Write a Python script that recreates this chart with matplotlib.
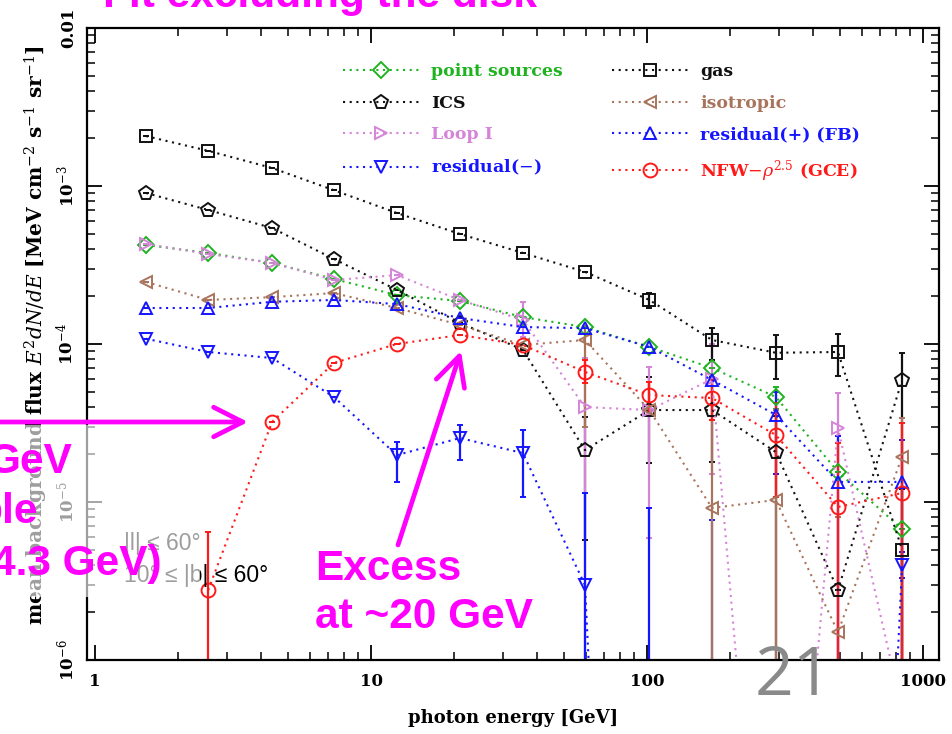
import numpy as np
import matplotlib
matplotlib.use("Agg")
import matplotlib.pyplot as plt
from matplotlib.patches import Rectangle, FancyArrowPatch, ArrowStyle

nan = np.nan

# ---------------- data ----------------
energy = [1.53, 2.57, 4.38, 7.34, 12.4, 21.0, 35.5, 59.6, 102.0, 172.0, 293.0, 492.0, 840.0]

gas = [2.07e-3, 1.67e-3, 1.30e-3, 9.4e-4, 6.75e-4, 4.97e-4, 3.77e-4, 2.86e-4, 1.90e-4, 1.06e-4, 8.8e-5, 8.9e-5, 5.0e-6]
gas_lo = [nan, nan, nan, nan, nan, nan, nan, nan, 1.69e-4, 7.9e-5, 6.0e-5, 6.27e-5, 1e-9]
gas_hi = [nan, nan, nan, nan, nan, nan, nan, nan, 2.10e-4, 1.26e-4, 1.14e-4, 1.15e-4, 1.2e-5]

ics = [9.03e-4, 7.05e-4, 5.42e-4, 3.45e-4, 2.20e-4, 1.36e-4, 9.2e-5, 2.13e-5, 3.82e-5, 3.82e-5, 2.07e-5, 2.77e-6, 5.92e-5]
ics_lo = [nan, nan, nan, nan, nan, nan, nan, 5.74e-6, 1.77e-5, 1.79e-5, 1e-9, nan, 1e-9]
ics_hi = [nan, nan, nan, nan, nan, nan, nan, 3.45e-5, 6.18e-5, 6.2e-5, 3.5e-5, nan, 8.8e-5]

point_src = [4.23e-4, 3.77e-4, 3.26e-4, 2.58e-4, 2.04e-4, 1.87e-4, 1.48e-4, 1.28e-4, 9.58e-5, 7.05e-5, 4.62e-5, 1.55e-5, 6.75e-6]
point_src_lo = [nan, nan, nan, nan, nan, nan, nan, nan, nan, nan, 3.9e-5, nan, nan]
point_src_hi = [nan, nan, nan, nan, nan, nan, nan, nan, nan, nan, 5.34e-5, nan, nan]

loop1 = [4.30e-4, 3.71e-4, 3.26e-4, 2.54e-4, 2.73e-4, 1.90e-4, 1.42e-4, 3.99e-5, 3.82e-5, 6.0e-5, 1.3e-9, 2.94e-5, 4.8e-7]
loop1_lo = [nan, nan, nan, nan, nan, nan, 1.1e-4, 1e-9, 5.9e-6, 1.5e-5, nan, 1e-9, nan]
loop1_hi = [nan, nan, nan, nan, nan, nan, 1.85e-4, 8.15e-5, 7.15e-5, 1.0e-4, nan, 4.9e-5, nan]

isotropic = [2.47e-4, 1.90e-4, 1.98e-4, 2.10e-4, 1.69e-4, 1.32e-4, 9.86e-5, 1.06e-4, 3.82e-5, 9.17e-6, 1.03e-5, 1.50e-6, 1.93e-5]
isotropic_lo = [nan, nan, nan, nan, nan, nan, nan, 3.0e-5, nan, 1e-9, 1e-9, 1e-9, 1e-9]
isotropic_hi = [nan, nan, nan, nan, nan, nan, nan, 1.3e-4, nan, 3.3e-5, 3.8e-5, 8.0e-6, 3.4e-5]

res_plus = [1.69e-4, 1.69e-4, 1.85e-4, 1.90e-4, 1.79e-4, 1.46e-4, 1.28e-4, 1.26e-4, 9.58e-5, 5.92e-5, 3.56e-5, 1.34e-5, 1.34e-5]
res_plus_lo = [nan, nan, nan, nan, nan, nan, nan, nan, nan, nan, 1.5e-5, 1e-9, 1e-9]
res_plus_hi = [nan, nan, nan, nan, nan, nan, nan, nan, nan, nan, 5.0e-5, 2.6e-5, 2.47e-5]

res_minus = [1.08e-4, 8.9e-5, 8.15e-5, 4.62e-5, 1.98e-5, 2.54e-5, 2.04e-5, 2.98e-6, 1e-14, 1e-14, 1e-14, 1e-14, 3.99e-6]
res_minus_lo = [nan, nan, nan, nan, 1.34e-5, 1.84e-5, 1.08e-5, 1e-9, nan, nan, nan, nan, 3.3e-6]
res_minus_hi = [nan, nan, nan, nan, 2.40e-5, 3.07e-5, 2.86e-5, 1.14e-5, 9.2e-6, 7.7e-6, nan, nan, 4.8e-6]

nfw = [nan, 2.77e-6, 3.21e-5, 7.59e-5, 1.0e-4, 1.14e-4, 9.86e-5, 6.65e-5, 4.75e-5, 4.55e-5, 2.65e-5, 9.3e-6, 1.14e-5]
nfw_lo = [nan, 1e-9, nan, nan, nan, nan, nan, 5.66e-5, 3.71e-5, 3.30e-5, 1.08e-5, 1e-9, 1e-9]
nfw_hi = [nan, 6.46e-6, nan, nan, nan, nan, nan, 7.9e-5, 5.74e-5, 5.92e-5, 4.23e-5, 2.36e-5, 3.16e-5]

x_ticks = [1, 10, 100, 1000]
x_ticklabels = ["1", "10", "100", "1000"]
y_ticks = [1e-6, 1e-5, 1e-4, 1e-3, 1e-2]
y_ticklabels = [r"10$^{-6}$", r"10$^{-5}$", r"10$^{-4}$", r"10$^{-3}$", "0.01"]

GREEN = "#1fb31f"
BLACK = "#111111"
VIOLET = "#d584d8"
BLUE = "#1515ff"
BROWN = "#a8745c"
RED = "#ff1a1a"
MAGENTA = "#ff00ff"

series = [
    ("point sources", point_src, point_src_lo, point_src_hi, GREEN, "D", 8),
    ("ICS", ics, ics_lo, ics_hi, BLACK, "p", 10),
    ("Loop I", loop1, loop1_lo, loop1_hi, VIOLET, ">", 9),
    ("residual($-$)", res_minus, res_minus_lo, res_minus_hi, BLUE, "v", 9),
    ("gas", gas, gas_lo, gas_hi, BLACK, "s", 9),
    ("isotropic", isotropic, isotropic_lo, isotropic_hi, BROWN, "<", 9),
    ("residual(+) (FB)", res_plus, res_plus_lo, res_plus_hi, BLUE, "^", 9),
    (r"NFW$-\rho^{2.5}$ (GCE)", nfw, nfw_lo, nfw_hi, RED, "o", 10),
]

# ---------------- figure ----------------
plt.rcParams["font.family"] = ["DejaVu Serif"]
plt.rcParams["mathtext.fontset"] = "dejavuserif"

W, H = 952, 734
fig = plt.figure(figsize=(W / 100, H / 100), dpi=100)
ax = fig.add_axes([87 / W, 1 - 660 / H, (939 - 87) / W, (660 - 28) / H])
ax.set_xscale("log")
ax.set_yscale("log")
ax.set_xlim(0.935, 1143)
ax.set_ylim(1e-6, 1e-2)

x = np.array(energy)
handles = []
for label, vals, lo, hi, color, marker, ms in series:
    y = np.array(vals, dtype=float)
    lo = np.array(lo, dtype=float)
    hi = np.array(hi, dtype=float)
    err_lo = np.where(np.isnan(lo), 0, y - lo)
    err_hi = np.where(np.isnan(hi), 0, hi - y)
    ax.errorbar(x, y, yerr=[err_lo, err_hi], fmt="none", ecolor=color,
                elinewidth=1.6, capsize=2.5, capthick=1.4, zorder=2)
    ln, = ax.plot(x, y, linestyle=(0, (1, 2.2)), linewidth=1.5, color=color,
                  marker=marker, markersize=ms, markerfacecolor="none",
                  markeredgecolor=color, markeredgewidth=1.4, label=label, zorder=3)
    handles.append(ln)

ax.set_xticks(x_ticks)
ax.set_xticklabels(x_ticklabels, fontsize=12, fontweight="bold")
ax.set_yticks(y_ticks)
ax.set_yticklabels(y_ticklabels, fontsize=12, fontweight="bold", rotation=90, va="center")
ax.tick_params(which="both", direction="in", top=True, right=True)
ax.tick_params(which="major", length=11, width=1.3)
ax.tick_params(which="minor", length=6, width=1.1)
ax.tick_params(axis="x", which="major", pad=9)
ax.tick_params(axis="y", which="major", pad=7)
for s in ax.spines.values():
    s.set_linewidth(1.6)

ax.set_xlabel("photon energy [GeV]", fontsize=13, fontweight="bold")
ax.xaxis.set_label_coords(0.5, -(709 - 660) / (660 - 28))
ax.set_ylabel(r"mean background flux $E^2dN/dE$ [MeV cm$^{-2}$ s$^{-1}$ sr$^{-1}$]",
              fontsize=14.5, fontweight="bold", va="center")
ax.yaxis.set_label_coords(-(87 - 36) / (939 - 87), (660 - 335) / (660 - 28))

leg = ax.legend(handles=handles, ncol=2, loc="upper left",
                bbox_to_anchor=((336 - 87) / (939 - 87), 1 - (56 - 28) / (660 - 28)),
                frameon=False, labelcolor="linecolor", numpoints=1,
                handlelength=4.4, handletextpad=0.7, columnspacing=2.8,
                labelspacing=0.85, borderaxespad=0,
                prop={"family": "DejaVu Serif", "weight": "bold", "size": 12.5})

# ---------------- slide overlays ----------------
def fxy(px, py):
    return (px / W, 1 - py / H)

# translucent box washing out part of the left side
fig.add_artist(Rectangle(fxy(0, 597), 200 / W, (597 - 425) / H, transform=fig.transFigure,
                         facecolor="white", edgecolor="none", alpha=0.62, zorder=5))

sans = ["Liberation Sans", "DejaVu Sans"]
fig.text(*fxy(124, 550), "|l| ≤ 60°", fontsize=16.5, family=sans, color="black", zorder=3)
fig.text(*fxy(124, 582), "10° ≤ |b| ≤ 60°", fontsize=16.5, family=sans, color="black", zorder=3)

fig.text(*fxy(103, 7), "Fit excluding the disk", fontsize=30.5, family=sans,
         fontweight="bold", color=MAGENTA, va="baseline", zorder=10)
fig.text(*fxy(72, 473), "GeV", fontsize=30.5, family=sans, fontweight="bold",
         color=MAGENTA, ha="right", va="baseline", zorder=10)
fig.text(*fxy(38, 523), "ble", fontsize=30.5, family=sans, fontweight="bold",
         color=MAGENTA, ha="right", va="baseline", zorder=10)
fig.text(*fxy(162, 575), "4.3 GeV)", fontsize=30.5, family=sans, fontweight="bold",
         color=MAGENTA, ha="right", va="baseline", zorder=10)
fig.text(*fxy(315, 580), "Excess", fontsize=30.5, family=sans, fontweight="bold",
         color=MAGENTA, va="baseline", zorder=10)
fig.text(*fxy(315, 628), "at ~20 GeV", fontsize=30.5, family=sans, fontweight="bold",
         color=MAGENTA, va="baseline", zorder=10)

style = ArrowStyle("->", head_length=0.75, head_width=0.38)
fig.add_artist(FancyArrowPatch(fxy(-5, 422), fxy(248, 422), transform=fig.transFigure,
                               arrowstyle=style, mutation_scale=28, lw=3.4,
                               color=MAGENTA, zorder=10, shrinkA=0, shrinkB=0))
fig.add_artist(FancyArrowPatch(fxy(398, 545), fxy(461, 351), transform=fig.transFigure,
                               arrowstyle=style, mutation_scale=28, lw=3.4,
                               color=MAGENTA, zorder=10, shrinkA=0, shrinkB=0))

fig.text(*fxy(755, 695), "21", fontsize=49, family=["Open Sans", "DejaVu Sans"],
         fontweight="normal", color="#8a8a8a", va="baseline", zorder=10)

fig.savefig("out.png", dpi=100)
